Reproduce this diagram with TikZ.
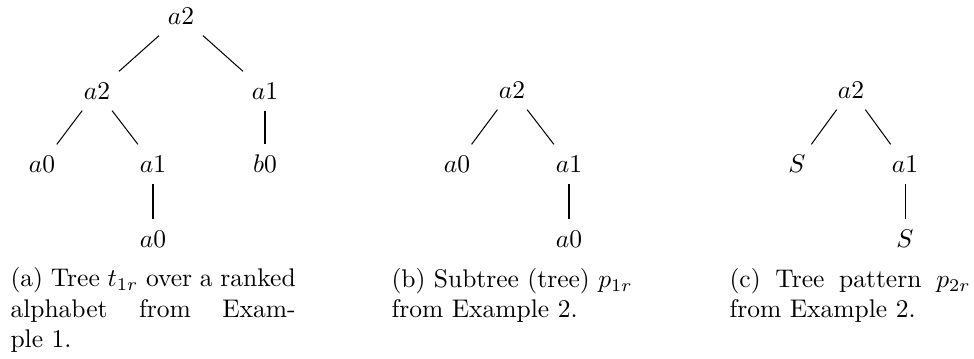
\documentclass[tikz,border=0pt]{standalone}
\begin{document}
\begin{tikzpicture}[x=0.392pt,y=-0.392pt,
  tn/.style={inner sep=4pt, text height=7pt, text depth=0pt},
  edge/.style={draw=black, line width=0.4pt},
  captext/.style={anchor=base west, inner sep=0pt, align=left, font=\normalsize}]
\useasboundingbox (0,0) rectangle (974,359);

% Tree (a)
\node[tn] (ar)   at (181,16)  {$a2$};
\node[tn] (aL)   at (97,91)   {$a2$};
\node[tn] (aR)   at (265,91)  {$a1$};
\node[tn] (aLL)  at (42,164)  {$a0$};
\node[tn] (aLR)  at (153,164) {$a1$};
\node[tn] (aRR)  at (265,164) {$b0$};
\node[tn] (aLRc) at (153,239) {$a0$};
\draw[edge] (ar) -- (aL);
\draw[edge] (ar) -- (aR);
\draw[edge] (aL) -- (aLL);
\draw[edge] (aL) -- (aLR);
\draw[edge] (aR) -- (aRR);
\draw[edge] (aLR) -- (aLRc);

% Tree (b)
\node[tn] (br)  at (512,90)  {$a2$};
\node[tn] (bL)  at (457,164) {$a0$};
\node[tn] (bR)  at (569,164) {$a1$};
\node[tn] (bRc) at (569,239) {$a0$};
\draw[edge] (br) -- (bL);
\draw[edge] (br) -- (bR);
\draw[edge] (bR) -- (bRc);

% Tree (c)
\node[tn] (cr)  at (851,90)  {$a2$};
\node[tn] (cL)  at (797,164) {$S$};
\node[tn] (cR)  at (905,164) {$a1$};
\node[tn] (cRc) at (905,239) {$S$};
\draw[edge] (cr) -- (cL);
\draw[edge] (cr) -- (cR);
\draw[edge] (cR) -- (cRc);

% Captions (anchored at baseline of last line)
\node[captext] (capa) at (10,348) {\hbox to 111.8pt{(a) Tree $t_{1r}$ over a ranked}\\
  \hbox to 111.8pt{alphabet\hfill from\hfill Exam-}\\ple 1.};
\node[captext] (capb) at (391,318) {\hbox to 94.5pt{(b) Subtree (tree) $p_{1r}$}\\from Example 2.};
\node[captext] (capc) at (729,318) {\hbox to 94.5pt{(c) Tree pattern $p_{2r}$}\\from Example 2.};
\end{tikzpicture}
\end{document}
